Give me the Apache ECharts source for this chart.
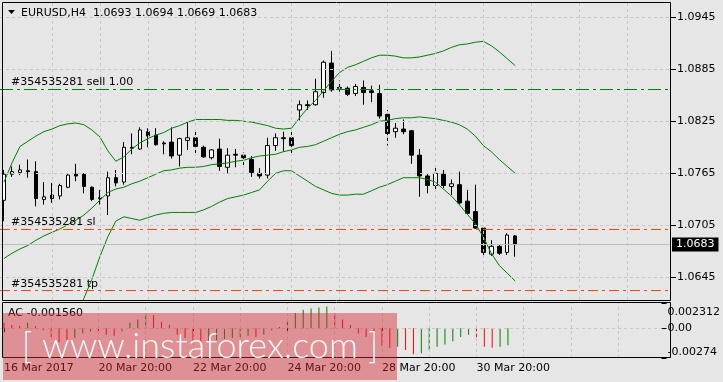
<!DOCTYPE html>
<html><head><meta charset="utf-8">
<script src="https://cdn.jsdelivr.net/npm/echarts@6/dist/echarts.min.js"></script>
<style>html,body{margin:0;padding:0;background:#E6E6E6;}#c{width:723px;height:382px;}</style>
</head><body><div id="c"></div>
<script>
// ---- data (EURUSD H4, 16 Mar 20:00 .. 31 Mar 12:00) ----
const openP  = [1.0734,1.0764,1.0766,1.0768,1.0767,1.0735,1.0740,1.0739,1.0749,1.0764,1.0764,1.0749,1.0737,1.0739,1.0760,1.0755,1.0795,1.0793,1.0813,1.0809,1.0800,1.0801,1.0786,1.0803,1.0806,1.0795,1.0783,1.0793,1.0772,1.0787,1.0786,1.0781,1.0765,1.0763,1.0797,1.0806,1.0806,1.0838,1.0844,1.0844,1.0858,1.0892,1.0864,1.0863,1.0857,1.0864,1.0860,1.0857,1.0833,1.0813,1.0816,1.0814,1.0786,1.0762,1.0751,1.0764,1.0750,1.0752,1.0733,1.0721,1.0702,1.0672,1.0681,1.0674,1.0693];
const closeP = [1.0764,1.0767,1.0769,1.0767,1.0736,1.0738,1.0736,1.0751,1.0763,1.0762,1.0750,1.0735,1.0736,1.0760,1.0754,1.0795,1.0794,1.0815,1.0808,1.0798,1.0799,1.0785,1.0805,1.0806,1.0796,1.0784,1.0792,1.0773,1.0786,1.0786,1.0783,1.0766,1.0762,1.0797,1.0806,1.0805,1.0797,1.0844,1.0843,1.0859,1.0893,1.0861,1.0863,1.0856,1.0865,1.0858,1.0858,1.0831,1.0811,1.0817,1.0813,1.0786,1.0762,1.0751,1.0765,1.0751,1.0753,1.0731,1.0719,1.0702,1.0674,1.0681,1.0673,1.0694,1.0683];
const lowP   = [1.0710,1.0761,1.0763,1.0760,1.0727,1.0729,1.0731,1.0735,1.0748,1.0756,1.0742,1.0733,1.0729,1.0717,1.0750,1.0752,1.0787,1.0792,1.0795,1.0797,1.0787,1.0782,1.0773,1.0792,1.0788,1.0783,1.0781,1.0768,1.0765,1.0772,1.0773,1.0761,1.0759,1.0759,1.0791,1.0790,1.0788,1.0826,1.0838,1.0843,1.0852,1.0859,1.0859,1.0854,1.0854,1.0844,1.0847,1.0828,1.0797,1.0806,1.0810,1.0776,1.0738,1.0742,1.0747,1.0748,1.0740,1.0729,1.0718,1.0701,1.0671,1.0670,1.0671,1.0671,1.0669];
const highP  = [1.0769,1.0773,1.0775,1.0781,1.0779,1.0755,1.0754,1.0753,1.0764,1.0776,1.0765,1.0750,1.0746,1.0767,1.0769,1.0801,1.0811,1.0818,1.0817,1.0817,1.0802,1.0818,1.0806,1.0824,1.0816,1.0797,1.0793,1.0805,1.0794,1.0793,1.0789,1.0785,1.0771,1.0806,1.0811,1.0813,1.0816,1.0849,1.0849,1.0874,1.0895,1.0906,1.0872,1.0865,1.0868,1.0872,1.0866,1.0867,1.0838,1.0823,1.0827,1.0815,1.0793,1.0764,1.0772,1.0769,1.0758,1.0767,1.0746,1.0752,1.0704,1.0688,1.0683,1.0696,1.0694];
// Bollinger bands
const bbUpper = [1.0755,1.0777,1.0796,1.0802,1.0808,1.0813,1.0816,1.0820,1.0822,1.0823,1.0821,1.0815,1.0807,1.0791,1.0779,1.0784,1.0793,1.0800,1.0805,1.0809,1.0812,1.0817,1.0820,1.0824,1.0827,1.0827,1.0827,1.0827,1.0826,1.0826,1.0825,1.0824,1.0822,1.0820,1.0817,1.0816,1.0817,1.0829,1.0840,1.0849,1.0860,1.0871,1.0881,1.0887,1.0890,1.0894,1.0898,1.0901,1.0901,1.0900,1.0898,1.0898,1.0899,1.0901,1.0903,1.0906,1.0910,1.0913,1.0914,1.0916,1.0917,1.0912,1.0905,1.0897,1.0889];
const bbMiddle = [1.0667,1.0673,1.0678,1.0682,1.0688,1.0693,1.0697,1.0701,1.0706,1.0711,1.0717,1.0725,1.0734,1.0743,1.0747,1.0749,1.0753,1.0756,1.0760,1.0764,1.0768,1.0769,1.0771,1.0772,1.0772,1.0773,1.0775,1.0776,1.0777,1.0779,1.0780,1.0783,1.0785,1.0786,1.0787,1.0790,1.0792,1.0795,1.0796,1.0798,1.0802,1.0806,1.0810,1.0813,1.0815,1.0818,1.0821,1.0825,1.0826,1.0828,1.0829,1.0829,1.0830,1.0829,1.0828,1.0826,1.0824,1.0821,1.0816,1.0808,1.0797,1.0790,1.0781,1.0773,1.0765];
const bbLower = [null,null,null,null,null,null,null,null,null,1.0596,1.0621,1.0643,1.0669,1.0692,1.0710,1.0715,1.0713,1.0711,1.0714,1.0717,1.0719,1.0720,1.0720,1.0720,1.0720,1.0723,1.0727,1.0732,1.0736,1.0738,1.0740,1.0743,1.0746,1.0756,1.0765,1.0768,1.0768,1.0762,1.0756,1.0750,1.0746,1.0742,1.0740,1.0740,1.0741,1.0741,1.0745,1.0749,1.0752,1.0756,1.0760,1.0760,1.0760,1.0758,1.0755,1.0747,1.0739,1.0729,1.0718,1.0707,1.0692,1.0673,1.0659,1.0650,1.0641];
// Accelerator oscillator
const acValues = [0.0005,0.0003,0.0002,0.0005,0.0002,-0.0002,-0.0008,-0.0013,-0.0014,-0.0009,-0.0005,-0.0003,-0.0005,-0.0006,-0.0007,-0.0003,0.0005,0.0008,0.0014,0.0012,0.0006,0.0003,-0.0006,-0.0009,-0.0011,-0.0013,-0.0012,-0.0011,-0.0010,-0.0009,-0.0008,-0.0007,-0.0008,-0.0006,-0.0002,0.0001,0.0006,0.0014,0.0017,0.0018,0.0019,0.0020,0.0014,0.0008,0.0003,-0.0005,-0.0008,-0.0012,-0.0016,-0.0018,-0.0017,-0.0020,-0.0024,-0.0023,-0.0020,-0.0017,-0.0015,-0.0012,-0.0008,-0.0006,-0.0011,-0.0017,-0.0018,-0.0017,-0.00156];
// levels and ticks
const sellLevel = 1.0862, slLevel = 1.0701, tpLevel = 1.0630, bidLevel = 1.0683;
const priceTicks = [1.0645,1.0705,1.0765,1.0825,1.0885,1.0945];
const priceMin = 1.06192, priceMax = 1.09623;
const acTicks = [0.002312, 0, -0.00274];
const acMin = -0.00274, acMax = 0.002312;
const timeTickIdx = [0,12,24,36,48,60];
const timeTickLabels = ['16 Mar 2017','20 Mar 20:00','22 Mar 20:00','24 Mar 20:00','28 Mar 20:00','30 Mar 20:00'];
const gridIdx = [6,12,18,24,30,36,42,48,54,60,66,72,78];

// categories: H4 bar times (weekdays only), incl. empty right-shift area
const categories = (function(){
  const out=[], M=['Jan','Feb','Mar','Apr'];
  let t = Date.UTC(2017,2,16,20);
  while(out.length<84){
    const d=new Date(t), wd=d.getUTCDay();
    if(wd!==0 && wd!==6) out.push(d.getUTCDate()+' '+M[d.getUTCMonth()]+' '+String(d.getUTCHours()).padStart(2,'0')+':00');
    t += 4*3600e3;
  }
  return out;
})();
const N = categories.length;
const pad = a => a.concat(new Array(N-a.length).fill(null));
const candleData = categories.map((c,i)=> i<openP.length ? [openP[i],closeP[i],lowP[i],highP[i]] : '-');
const nulls = new Array(N).fill(null);

const FONT = 'DejaVu Sans';
const chart = echarts.init(document.getElementById('c'), null, {renderer:'canvas'});
const gridLineStyle = {color:'#C8C8C8', type:[3,3], width:1};

function levelSeries(name, value, color, dash, labelText, z){
  return {name:name, type:'line', xAxisIndex:0, yAxisIndex:0, data:nulls, z:z, silent:true, showSymbol:false,
    color:color,
    markLine:{silent:true, symbol:'none', precision:6,
      lineStyle:{color:color, type:dash, width:1},
      label:{show:true, position:'insideStartTop', distance:1, padding:[0,0,0,10], formatter:labelText,
             color:'#000', fontFamily:FONT, fontSize:11},
      data:[{yAxis:value}]}};
}

chart.setOption({
  animation:false,
  backgroundColor:'#E6E6E6',
  grid:[
    {left:0, right:52, top:2, height:298},
    {left:0, right:52, top:303, height:55}
  ],
  xAxis:[
    {type:'category', gridIndex:0, data:categories, boundaryGap:true,
     axisLine:{show:false}, axisTick:{show:false}, axisLabel:{show:false}, splitLine:{show:false}},
    {type:'category', gridIndex:1, data:categories, boundaryGap:true,
     axisLine:{show:false},
     axisTick:{show:true, alignWithLabel:true, length:4, interval:(i)=>timeTickIdx.indexOf(i)>=0, lineStyle:{color:'#000'}},
     axisLabel:{show:true, interval:(i)=>timeTickIdx.indexOf(i)>=0, align:'left', margin:5,
       color:'#000', fontFamily:FONT, fontSize:11,
       formatter:(v)=>{const k=timeTickIdx.indexOf(categories.indexOf(v)); return k>=0?timeTickLabels[k]:'';}},
     splitLine:{show:false}}
  ],
  yAxis:[
    {type:'value', gridIndex:0, position:'right', min:priceMin, max:priceMax,
     axisLine:{show:false},
     axisTick:{show:true, length:5, customValues:priceTicks, lineStyle:{color:'#000'}},
     axisLabel:{customValues:priceTicks, margin:6, color:'#000', fontFamily:FONT, fontSize:11, formatter:v=>v.toFixed(4)},
     splitLine:{show:false}},
    {type:'value', gridIndex:1, position:'right', min:acMin, max:acMax,
     axisLine:{show:false},
     axisTick:{show:true, length:5, customValues:acTicks, lineStyle:{color:'#000'}},
     axisLabel:{customValues:acTicks, margin:6, color:'#000', fontFamily:FONT, fontSize:11,
       formatter:v=> v===0 ? '{m|0.00}' : (v>0 ? '{t|'+v+'}' : '{b|'+v+'}'),
       rich:{t:{padding:[18,0,0,0],fontFamily:FONT,fontSize:11,color:'#000'},
             m:{fontFamily:FONT,fontSize:11,color:'#000'},
             b:{padding:[0,0,12,0],fontFamily:FONT,fontSize:11,color:'#000'}}},
     splitLine:{show:false}}
  ],
  series:[
    {name:'gridMain', type:'line', xAxisIndex:0, yAxisIndex:0, data:nulls, z:1, silent:true, showSymbol:false,
     markLine:{silent:true, symbol:'none', precision:6, label:{show:false}, lineStyle:gridLineStyle,
       data: gridIdx.map(k=>({xAxis:categories[k]})).concat(priceTicks.map(v=>({yAxis:v})))}},
    {name:'bid', type:'line', xAxisIndex:0, yAxisIndex:0, data:nulls, z:1, silent:true, showSymbol:false, color:'#BDBDBD',
     markLine:{silent:true, symbol:'none', precision:6,
       lineStyle:{color:'#BDBDBD', type:'solid', width:1},
       label:{show:true, position:'end', distance:1, formatter:bidLevel.toFixed(4), color:'#fff', backgroundColor:'#000',
              padding:[2,4,1,4], fontFamily:FONT, fontSize:11},
       data:[{yAxis:bidLevel}]}},
    levelSeries('sell', sellLevel, '#008000', [13,4,3,4], '#354535281 sell 1.00', 2),
    levelSeries('sl', slLevel, '#FF4500', [10,4,3,4], '#354535281 sl', 2),
    levelSeries('tp', tpLevel, '#FF4500', [10,4,3,4], '#354535281 tp', 2),
    {name:'EURUSD', type:'candlestick', xAxisIndex:0, yAxisIndex:0, data:candleData, z:3, barWidth:4, clip:false,
     itemStyle:{color:'#FFFFFF', color0:'#000000', borderColor:'#000000', borderColor0:'#000000', borderWidth:1}},
    {name:'BB upper', type:'line', xAxisIndex:0, yAxisIndex:0, data:pad(bbUpper), z:4, showSymbol:false, symbol:'none',
     lineStyle:{color:'#008000', width:1}},
    {name:'BB middle', type:'line', xAxisIndex:0, yAxisIndex:0, data:pad(bbMiddle), z:4, showSymbol:false, symbol:'none',
     lineStyle:{color:'#008000', width:1}},
    {name:'BB lower', type:'line', xAxisIndex:0, yAxisIndex:0, data:pad(bbLower), z:4, showSymbol:false, symbol:'none',
     lineStyle:{color:'#008000', width:1}},
    {name:'gridAC', type:'line', xAxisIndex:1, yAxisIndex:1, data:nulls, z:1, silent:true, showSymbol:false,
     markLine:{silent:true, symbol:'none', precision:8, label:{show:false}, lineStyle:gridLineStyle,
       data: gridIdx.map(k=>({xAxis:categories[k]})).concat([{yAxis:0}])}},
    {name:'AC', type:'bar', xAxisIndex:1, yAxisIndex:1, data:pad(acValues), z:3, barWidth:1,
     itemStyle:{color:(p)=>{const i=p.dataIndex; return (i>0 && acValues[i]>=acValues[i-1]) ? '#008000' : '#FF0000';}}}
  ],
  graphic:[
    {type:'rect', z:50, shape:{x:2.5,y:2.5,width:668,height:298}, style:{fill:null, stroke:'#000', lineWidth:1}, silent:true},
    {type:'rect', z:50, shape:{x:2.5,y:302.5,width:668,height:55}, style:{fill:null, stroke:'#000', lineWidth:1}, silent:true},
    {type:'polygon', z:50, shape:{points:[[8,10],[15,10],[11.5,14]]}, style:{fill:'#000'}, silent:true},
    {type:'text', z:50, x:21, y:13, style:{text:'EURUSD,H4  1.0693 1.0694 1.0669 1.0683', fill:'#000', font:'11px "DejaVu Sans"', verticalAlign:'middle'}, silent:true},
    {type:'text', z:50, x:8, y:313, style:{text:'AC -0.001560', fill:'#000', font:'11px "DejaVu Sans"', verticalAlign:'middle'}, silent:true},
    {type:'rect', z:60, shape:{x:3,y:313,width:394,height:67}, style:{fill:'rgba(214,40,50,0.45)'}, silent:true},
    {type:'text', z:61, x:200, y:346, style:{text:'[ www.instaforex.com ]', fill:'rgba(255,255,255,0.95)', font:'300 36px Lato', align:'center', verticalAlign:'middle'}, silent:true}
  ]
});
</script></body></html>
